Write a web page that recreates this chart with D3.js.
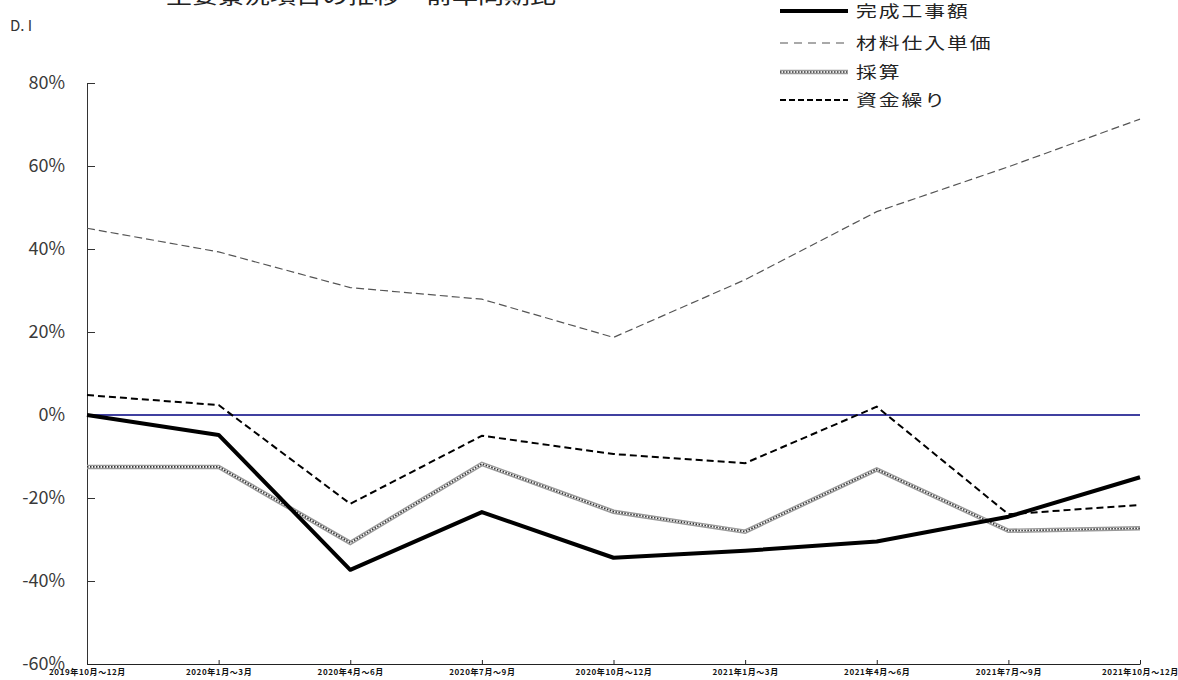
<!DOCTYPE html>
<html>
<head>
<meta charset="utf-8">
<script src="https://cdn.jsdelivr.net/npm/d3@7"></script>
<style>
  html, body { margin: 0; padding: 0; background: #fff; }
  svg { display: block; }
  text { font-family: "Noto Sans CJK JP", "Liberation Sans", sans-serif; }
</style>
</head>
<body>
<svg id="chart"></svg>
<script>
const width = 1178
const height = 680

const periods = [
  '2019年10月～12月', '2020年1月～3月', '2020年4月～6月', '2020年7月～9月',
  '2020年10月～12月', '2021年1月～3月', '2021年4月～6月', '2021年7月～9月',
  '2021年10月～12月',
]
const completed = [0, -4.8, -37.3, -23.4, -34.4, -32.7, -30.5, -24.5, -15.0]
const materialPrice = [45.0, 39.3, 30.7, 27.9, 18.7, 32.6, 49.0, 59.8, 71.3]
const profit = [-12.5, -12.5, -30.8, -11.8, -23.3, -28.1, -13.1, -27.9, -27.3]
const funding = [4.8, 2.4, -21.4, -5.0, -9.4, -11.6, 2.0, -23.9, -21.7]
const yTicks = [-60, -40, -20, 0, 20, 40, 60, 80]
const seriesNames = ['完成工事額', '材料仕入単価', '採算', '資金繰り']

const margin = { top: 83, right: 38, bottom: 16, left: 87 }

const x = d3.scalePoint()
  .domain(periods)
  .range([margin.left, width - margin.right])

const y = d3.scaleLinear()
  .domain([-60, 80])
  .range([height - margin.bottom, margin.top])

const svg = d3.select('#chart')
  .attr('width', width)
  .attr('height', height)

// title, mostly cut off at the top edge
svg.append('text')
  .attr('transform', 'translate(166,4) scale(1.3,1)')
  .attr('font-size', 20)
  .attr('fill', '#222')
  .text('主要景況項目の推移　前年同期比')

svg.append('text')
  .attr('x', 10)
  .attr('y', 31)
  .attr('font-size', 15)
  .attr('fill', '#333')
  .attr('font-family', 'Liberation Sans, sans-serif')
  .text('D. I')

// axes
const yAxis = svg.append('g')
  .attr('transform', `translate(${ margin.left },0)`)
  .call(d3.axisLeft(y)
    .tickValues(yTicks)
    .tickSizeInner(-8)
    .tickSizeOuter(0)
    .tickPadding(22)
    .tickFormat(d => `${ d }%`))
yAxis.selectAll('path, line').attr('stroke', '#333')
yAxis.selectAll('text')
  .attr('font-size', 18)
  .attr('fill', '#3a3a3a')
  .attr('font-family', 'Liberation Sans, sans-serif')

const xAxis = svg.append('g')
  .attr('transform', `translate(0,${ height - margin.bottom })`)
  .call(d3.axisBottom(x)
    .tickSizeInner(-4)
    .tickSizeOuter(0)
    .tickPadding(5))
xAxis.selectAll('path, line').attr('stroke', '#222')
xAxis.selectAll('text')
  .attr('font-size', 8)
  .attr('letter-spacing', 0.6)
  .attr('font-weight', 'bold')
  .attr('fill', '#111')

// zero line
svg.append('line')
  .attr('x1', x(periods[0]))
  .attr('x2', x(periods[periods.length - 1]))
  .attr('y1', y(0))
  .attr('y2', y(0))
  .attr('stroke', '#000080')
  .attr('stroke-width', 1.5)

const line = d3.line()
  .x((d, i) => x(periods[i]))
  .y(d => y(d))

function drawProfit (g, path) {
  // textured gray line: gray body, checkered centre
  g.append('path').attr('d', path).attr('fill', 'none')
    .attr('stroke', '#9a9a9a').attr('stroke-width', 4.5)
  g.append('path').attr('d', path).attr('fill', 'none')
    .attr('stroke', '#fff').attr('stroke-width', 1.6)
  g.append('path').attr('d', path).attr('fill', 'none')
    .attr('stroke', '#333').attr('stroke-width', 1.6)
    .attr('stroke-dasharray', '1.5,1.5')
}

const plot = svg.append('g')

plot.append('path')
  .attr('d', line(materialPrice))
  .attr('fill', 'none')
  .attr('stroke', '#555')
  .attr('stroke-width', 1.2)
  .attr('stroke-dasharray', '8,4')

drawProfit(plot, line(profit))

plot.append('path')
  .attr('d', line(funding))
  .attr('fill', 'none')
  .attr('stroke', '#000')
  .attr('stroke-width', 2)
  .attr('stroke-dasharray', '7,4')

plot.append('path')
  .attr('d', line(completed))
  .attr('fill', 'none')
  .attr('stroke', '#000')
  .attr('stroke-width', 4)
  .attr('stroke-linejoin', 'round')

// legend
const legend = svg.append('g')
const legendY = [11, 43, 72, 100]
const lx1 = 780
const lx2 = 848
seriesNames.forEach((name, i) => {
  const ly = legendY[i]
  if (i === 0) {
    legend.append('line')
      .attr('x1', lx1).attr('x2', lx2).attr('y1', ly).attr('y2', ly)
      .attr('stroke', '#000').attr('stroke-width', 4)
  } else if (i === 1) {
    legend.append('line')
      .attr('x1', lx1).attr('x2', lx2).attr('y1', ly).attr('y2', ly)
      .attr('stroke', '#555').attr('stroke-width', 1.2)
      .attr('stroke-dasharray', '8,6')
  } else if (i === 2) {
    drawProfit(legend, `M${ lx1 },${ ly }L${ lx2 },${ ly }`)
  } else {
    legend.append('line')
      .attr('x1', lx1).attr('x2', lx2).attr('y1', ly).attr('y2', ly)
      .attr('stroke', '#000').attr('stroke-width', 2)
      .attr('stroke-dasharray', '6,3')
  }
  legend.append('text')
    .attr('transform', `translate(856,${ ly + 6 }) scale(1.3,1)`)
    .attr('font-size', 16)
    .attr('letter-spacing', 1.5)
    .attr('fill', '#222')
    .text(name)
})
</script>
</body>
</html>
